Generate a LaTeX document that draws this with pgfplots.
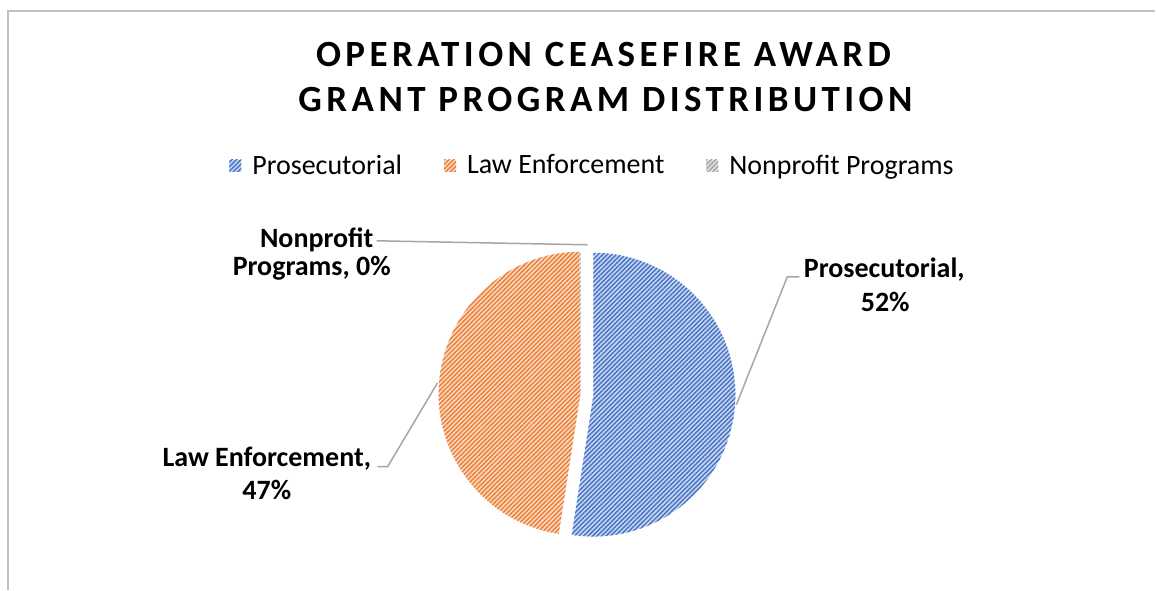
\documentclass[border=0pt]{standalone}
\usepackage{fontspec}
\setmainfont{Carlito}
\newfontfamily\titlefont[LetterSpace=12]{Carlito}
\usepackage{pgfplots}
\usepackage{pgfplotstable}
\pgfplotsset{compat=1.18}
\usetikzlibrary{patterns.meta}

\definecolor{pblue}{HTML}{4472C4}
\definecolor{pblueBg}{HTML}{C9D6F0}
\definecolor{porange}{HTML}{ED7D31}
\definecolor{porangeBg}{HTML}{F9DAC5}
\definecolor{pgray}{HTML}{A5A5A5}
\definecolor{pgrayBg}{HTML}{E0E0E0}
\definecolor{chartframe}{HTML}{BFBFBF}
\definecolor{leader}{HTML}{A6A6A6}

% share of the award, percent
\pgfplotstableread{
share value
Pros  52.45
Law   47.45
Nonp  0.10
}\shares

\begin{document}
\begin{tikzpicture}
\pgfplotstablegetelem{0}{value}\of\shares \pgfmathsetmacro\vP{\pgfplotsretval}
\pgfplotstablegetelem{1}{value}\of\shares \pgfmathsetmacro\vL{\pgfplotsretval}
\pgfplotstablegetelem{2}{value}\of\shares \pgfmathsetmacro\vN{\pgfplotsretval}
% slices run clockwise from 12 o'clock
\pgfmathsetmacro\aP{90-3.6*\vP}
\pgfmathsetmacro\aL{\aP-3.6*\vL}
\pgfmathsetmacro\aN{\aL-3.6*\vN}
\begin{axis}[
  width=578pt, height=295pt, scale only axis,
  xmin=0, xmax=1156, ymin=0, ymax=590, y dir=reverse,
  hide axis, clip=false,
  legend columns=3,
  legend style={at={(axis cs:594,166)}, anchor=center, draw=none, fill=none,
    font=\fontsize{14}{16}\selectfont,
    /tikz/every odd column/.append style={column sep=3.5pt},
    /tikz/every even column/.append style={column sep=19pt}},
  legend image code/.code={\fill[#1] (0pt,-3pt) rectangle (6pt,3pt);},
  slice/.style args={#1/#2}{draw=none, fill=#2,
    postaction={pattern={Lines[angle=45,distance=1.6pt,line width=0.7pt]}, pattern color=#1}},
]
% keep the whole chart area in the picture
\path (axis cs:0,0) rectangle (axis cs:1156,590);

\addplot[slice=pblue/pblueBg] coordinates {(594,395)}
  -- ++(90:71pt) arc[start angle=90, end angle=\aP, radius=71pt] -- cycle;
\addlegendentry{Prosecutorial}
\addplot[slice=porange/porangeBg] coordinates {(581,394)}
  -- ++(\aP:71pt) arc[start angle=\aP, end angle=\aL, radius=71pt] -- cycle;
\addlegendentry{Law Enforcement}
\addplot[slice=pgray/pgrayBg] coordinates {(581,394)}
  -- ++(\aL:71pt) arc[start angle=\aL, end angle=\aN, radius=71pt] -- cycle;
\addlegendentry{Nonprofit Programs}

% frame of the chart area
\draw[chartframe, line width=1pt] (axis cs:8,590) -- (axis cs:8,11) -- (axis cs:1156,11);

% title
\node[anchor=base, font=\titlefont\bfseries\fontsize{18.5}{20}\selectfont] at (axis cs:604,67) {OPERATION CEASEFIRE AWARD};
\node[anchor=base, font=\titlefont\bfseries\fontsize{18.5}{20}\selectfont] at (axis cs:606,112) {GRANT PROGRAM DISTRIBUTION};

% data labels and leader lines
\draw[leader, line width=0.75pt] (axis cs:377,241) -- (axis cs:588,245);
\draw[leader, line width=0.75pt] (axis cs:800,277) -- (axis cs:788,277) -- (axis cs:737,405);
\draw[leader, line width=0.75pt] (axis cs:378,467) -- (axis cs:388,467) -- (axis cs:438,383);
\begin{scope}[every node/.style={anchor=base, font=\bfseries\fontsize{14}{16}\selectfont}]
\node at (axis cs:317,248) {Nonprofit};
\node at (axis cs:312,276) {Programs, 0\%};
\node at (axis cs:885,278) {Prosecutorial,};
\node at (axis cs:886,312) {52\%};
\node at (axis cs:267,467) {Law Enforcement,};
\node at (axis cs:267,500) {47\%};
\end{scope}
\end{axis}
\end{tikzpicture}
\end{document}
